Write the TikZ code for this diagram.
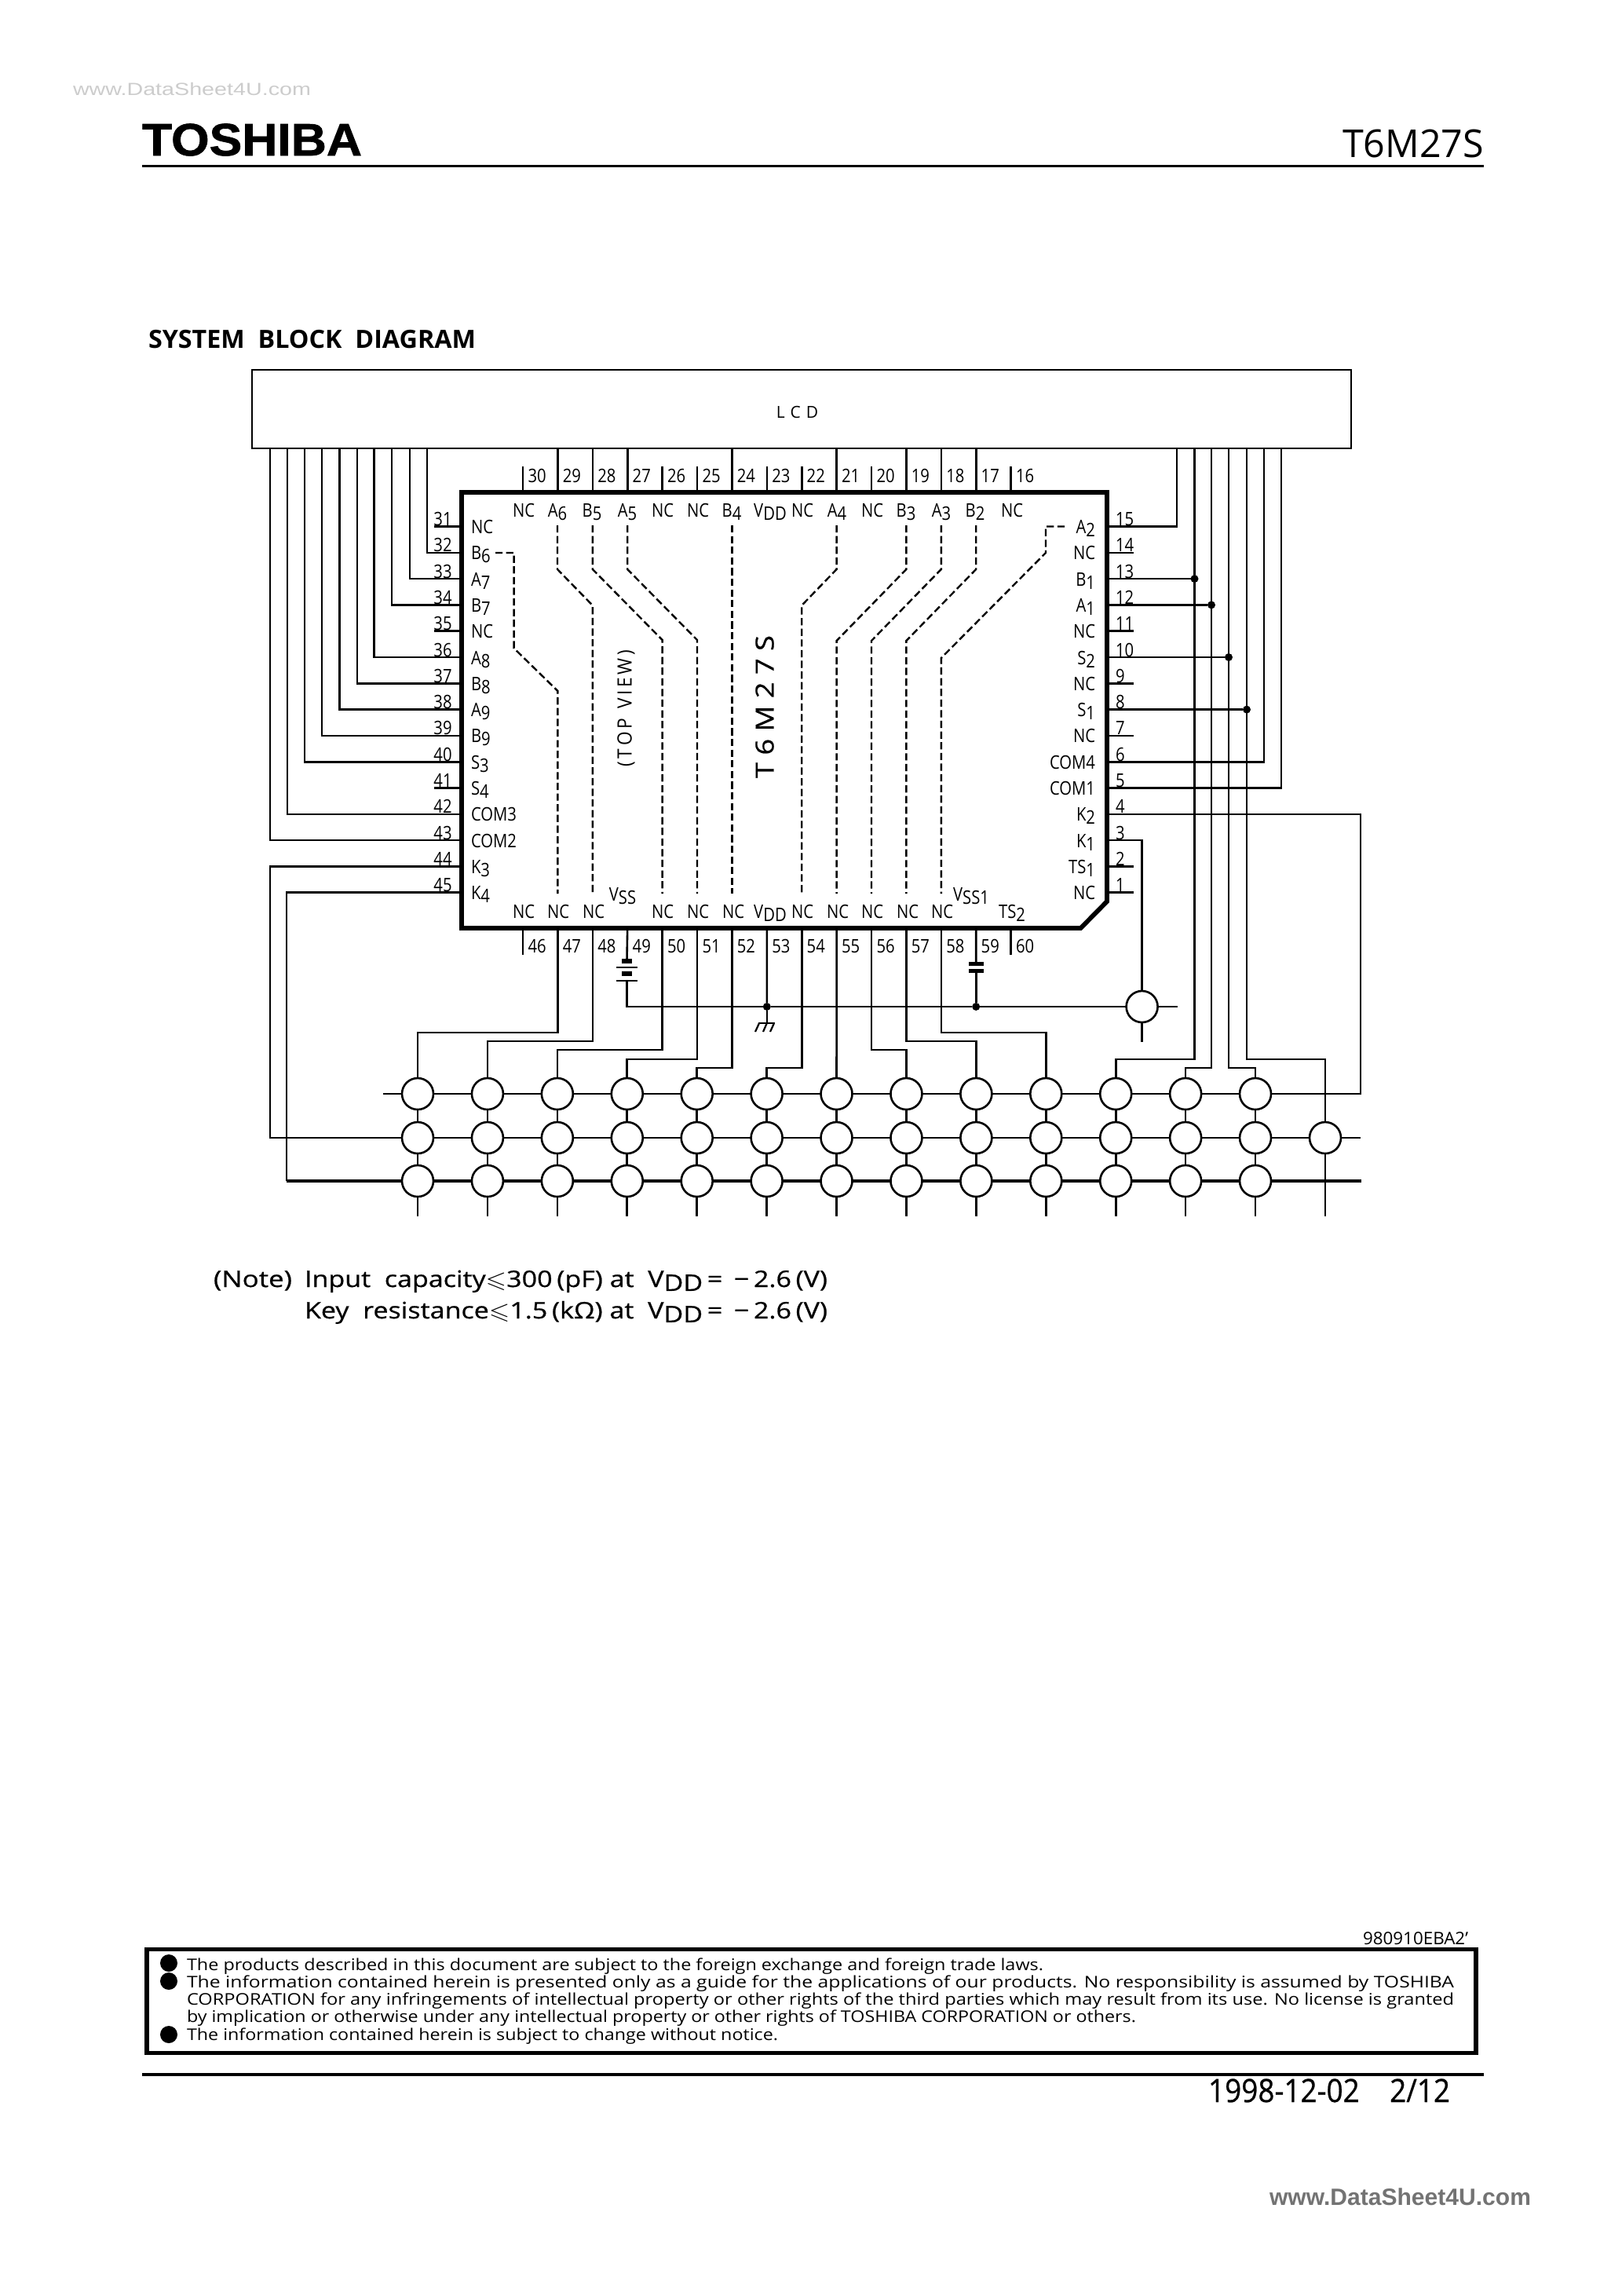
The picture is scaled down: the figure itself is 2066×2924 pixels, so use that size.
\documentclass[tikz,border=0pt]{standalone}
\usepackage{graphicx}
\usepackage{amssymb}
\usepackage{fontspec}
\setmainfont{Open Sans}
\newfontfamily\logof[FakeBold=1.2]{Liberation Sans Bold}
\newfontfamily\medf[FakeBold=0.6]{Open Sans}
\newfontfamily\wmf{Liberation Sans}
\usetikzlibrary{calc}
\newcommand\fz[1]{\fontsize{#1}{#1}\selectfont}
\newcommand\fitw[2]{\resizebox{#1pt}{\height}{#2}}
\newcommand\nar[1]{\scalebox{.85}[1]{#1}}
\newcommand\lowd[1]{\raisebox{-.17em}{#1}}
\tikzset{
  wire/.style={line width=1.3pt,line cap=butt,line join=miter},
  thickwire/.style={line width=2pt,line join=miter},
  chipline/.style={line width=2.9pt,line join=miter},
  dashline/.style={line width=1.2pt,dash pattern=on 4.6pt off 2.2pt},
  txt/.style={inner sep=0pt,outer sep=0pt,font=\fz{11.9}},
  lab/.style={txt,anchor=base},
  labl/.style={txt,anchor=base west},
  labr/.style={txt,anchor=base east},
  key/.style={circle,draw,line width=1.3pt,minimum size=20pt,inner sep=0pt,outer sep=0pt},
  jdot/.style={circle,fill=black,minimum size=5pt,inner sep=0pt,outer sep=0pt},
  bullet/.style={circle,fill=black,minimum size=11pt,inner sep=0pt,outer sep=0pt},
}
\begin{document}
\begin{tikzpicture}[x=0.5pt,y=-0.5pt]
\useasboundingbox (0,0) rectangle (2066,2924);
% page furniture
\node[labl,text=black!20] (wm1) at (93,121.5) {\wmf\fz{11.2}\fitw{151.5}{www.DataSheet4U.com}};
\node[labl] (logo) at (181,198) {\logof\fz{29}\fitw{140}{TOSHIBA}};
\node[labr] (part) at (1890,200) {\fz{24.5}\fitw{90}{T6M27S}};
\draw[line width=1.6pt] (181,211.5) coordinate (rt1) -- (1890,211.5) coordinate (rt2);
\node[labl] (title) at (189,443) {\bfseries\fz{16}\fitw{208.5}{SYSTEM\ \ BLOCK\ \ DIAGRAM}};
% LCD
\node[draw,line width=1.4pt,minimum width=700pt,minimum height=50pt,inner sep=0pt,outer sep=0pt] (lcd) at (1021,521) {};
\node[txt,font=\fz{10.5}] (lcdt) at (1015.5,525) {L\,\,C\,\,D};
% chip
\draw[chipline] (588,627) -- (1410,627) -- (1410,1148) -- (1376.5,1182) -- (588,1182) -- cycle;
% pin coordinates and numbers
\foreach \n [evaluate=\n as \px using {666+44.4*(30-\n)}] in {16,...,30} {
  \coordinate (p\n) at (\px,627);
  \node[labl] (n\n) at (\px+6.5,614.5) {\nar{\n}};
}
\foreach \n [evaluate=\n as \px using {666+44.4*(\n-46)}] in {46,...,60} {
  \coordinate (p\n) at (\px,1182);
  \node[labl] (n\n) at (\px+6.5,1213) {\nar{\n}};
}
\foreach \n [evaluate=\n as \py using {670.5+33.3*(\n-31)}] in {31,...,45} {
  \coordinate (p\n) at (588,\py);
  \node[lab] (n\n) at (564,\py-1) {\nar{\n}};
}
\foreach \n [evaluate=\n as \py using {670.5+33.3*(15-\n)}] in {1,...,15} {
  \coordinate (p\n) at (1410,\py);
  \node[labl] (n\n) at (1421,\py-1) {\nar{\n}};
}
% top row labels
\foreach \tx/\tl/\nm in {667/NC/a,710/A\lowd{6}/b,754/B\lowd{5}/c,799/A\lowd{5}/d,844/NC/e,889/NC/f,932/B\lowd{4}/g,981/V\lowd{DD}/h,1022/NC/i,1066/A\lowd{4}/j,1111/NC/k,1154/B\lowd{3}/l,1199/A\lowd{3}/m,1242/B\lowd{2}/o,1289/NC/q}
  \node[lab] (tl\nm) at (\tx,658.5) {\nar{\tl}};
% bottom row labels
\foreach \tx/\tl/\nm in {667/NC/a,711/NC/b,756/NC/c,844/NC/e,889/NC/f,934/NC/g,981/V\lowd{DD}/h,1022/NC/i,1067/NC/j,1111/NC/k,1156/NC/l,1200/NC/m,1289/TS\lowd{2}/q}
  \node[lab] (bl\nm) at (\tx,1169.5) {\nar{\tl}};
\node[lab] (blvss) at (793,1147) {\nar{V\lowd{SS}}};
\node[lab] (blvss1) at (1237,1147) {\nar{V\lowd{SS1}}};
% left labels
\foreach \n/\tl in {31/NC,32/B\lowd{6},33/A\lowd{7},34/B\lowd{7},35/NC,36/A\lowd{8},37/B\lowd{8},38/A\lowd{9},39/B\lowd{9},40/S\lowd{3},41/S\lowd{4},42/COM3,43/COM2,44/K\lowd{3},45/K\lowd{4}}
  \node[labl,yshift=-4.5pt] (ll\n) at (p\n -| 600,0) {\nar{\tl}};
% right labels
\foreach \n/\tl in {15/A\lowd{2},14/NC,13/B\lowd{1},12/A\lowd{1},11/NC,10/S\lowd{2},9/NC,8/S\lowd{1},7/NC,6/COM4,5/COM1,4/K\lowd{2},3/K\lowd{1},2/TS\lowd{1},1/NC}
  \node[labr,yshift=-4.5pt] (rl\n) at (p\n -| 1395,0) {\nar{\tl}};
% rotated labels
\node[txt,rotate=90,font=\fz{12.6}] (topview) at (797.5,902) {\fitw{74.5}{(\,T\,O\,P\ \ V\,I\,E\,W\,)}};
\node[txt,rotate=90,font=\fz{16}] (chipname) at (974,900) {\medf\fitw{91}{T\ 6\ M\ 2\ 7\ S}};
% short stubs on the top and bottom
\foreach \n in {30,26,25,23,22,20,16} \draw[wire] (p\n) -- ++(0,-33.5);
\foreach \n in {46,60} \draw[wire] (p\n) -- ++(0,34);
% chip to LCD, straight up
\foreach \n in {29,28,27,24,21,19,18,17} \draw[wire] (p\n) -- (p\n |- lcd.south);
% left side
\foreach \n in {31,35,41} \draw[wire] (p\n) -- ++(-35,0);
\foreach \n/\vx in {32/544,33/522,34/499,36/476.6,37/455,38/432.5,39/410,40/388,42/366,43/344}
  \draw[wire] (p\n) -| (\vx,0 |- lcd.south);
% right side
\foreach \n in {14,11,9,7,2,1} \draw[wire] (p\n) -- ++(34,0);
\foreach \n/\vx in {15/1499,6/1610,5/1632} \draw[wire] (p\n) -| (\vx,0 |- lcd.south);
% junctions on bus
\node[jdot] (d13) at (1521.5,0 |- p13) {};
\node[jdot] (d12) at (1543,0 |- p12) {};
\node[jdot] (d10) at (1565,0 |- p10) {};
\node[jdot] (d8) at (1588,0 |- p8) {};
\foreach \n in {13,12,10,8} \draw[wire] (p\n) -- (d\n);
% dashed internal wiring
\draw[dashline] (710,669) -- (710,725) -- (754.8,771) -- (754.8,1138);
\draw[dashline] (754.8,669) -- (754.8,725) -- (843.6,815) -- (843.6,1138);
\draw[dashline] (799.2,669) -- (799.2,725) -- (888,815) -- (888,1138);
\draw[dashline] (932.4,669) -- (932.4,1138);
\draw[dashline] (631,704) -- (654.6,704) -- (654.6,825.5) -- (710.4,880) -- (710.4,1138);
\draw[dashline] (1065.6,669) -- (1065.6,725) -- (1021.2,771) -- (1021.2,1138);
\draw[dashline] (1154.4,669) -- (1154.4,725) -- (1065.6,816) -- (1065.6,1138);
\draw[dashline] (1198.8,669) -- (1198.8,725) -- (1110,816) -- (1110,1138);
\draw[dashline] (1243.2,669) -- (1243.2,725) -- (1154.4,816) -- (1154.4,1138);
\draw[dashline] (1356,670.5) -- (1332,670.5) -- (1332,704) -- (1198.8,838) -- (1198.8,1138);
% key matrix
\foreach \c [evaluate=\c as \kx using {532+88.92*(\c-1)}] in {1,...,13} {
  \node[key] (k\c a) at (\kx,1393) {};
  \node[key] (k\c b) at (\kx,1449) {};
  \node[key] (k\c c) at (\kx,1504) {};
  \draw[wire] (k\c a) -- (k\c b);
  \draw[wire] (k\c b) -- (k\c c);
  \draw[wire] (k\c c) -- ++(0,45);
}
\node[key] (k14b) at (1688,1449) {};
\foreach \c [evaluate=\c as \dd using {int(\c+1)}] in {1,...,12} {
  \draw[wire] (k\c a) -- (k\dd a);
  \draw[wire] (k\c b) -- (k\dd b);
  \draw[thickwire] (k\c c) -- (k\dd c);
}
\draw[wire] (k13b) -- (k14b);
\draw[wire] (k14b) -- ++(45,0);
\draw[thickwire] (k13c) -- ++(134.5,0);
\draw[wire] (k1a) -- ++(-44,0);
\draw[wire] (p4) -| (1733,0 |- k13a) -- (k13a);
\draw[wire] (p44) -| (344,0 |- k1b) -- (k1b);
\coordinate (k4bend) at (365,0 |- k1c);
\draw[wire] (p45) -| (k4bend);
\draw[thickwire] (k4bend) -- (k1c);
% pins to keys
\draw[wire] (p47) |- (k1a |- 0,1315) -- (k1a);
\draw[wire] (p48) |- (k2a |- 0,1326) -- (k2a);
\draw[wire] (p50) |- (k3a |- 0,1337) -- (k3a);
\draw[wire] (p51) |- (k4a |- 0,1349) -- (k4a);
\draw[wire] (p52) |- (k5a |- 0,1360) -- (k5a);
\draw[wire] (p54) |- (k6a |- 0,1360) -- (k6a);
\draw[wire] (p55) -- (k7a);
\draw[wire] (p56) |- (k8a |- 0,1337) -- (k8a);
\draw[wire] (p57) |- (k9a |- 0,1326) -- (k9a);
\draw[wire] (p58) |- (k10a |- 0,1315) -- (k10a);
% bus lines from LCD to keys
\draw[wire] (d13 |- lcd.south) |- (k11a |- 0,1349) -- (k11a);
\draw[wire] (d12 |- lcd.south) |- (k12a |- 0,1360) -- (k12a);
\draw[wire] (d10 |- lcd.south) |- (k13a |- 0,1360) -- (k13a);
\draw[wire] (d8 |- lcd.south) |- (k14b |- 0,1349) -- (k14b);
\draw[wire] (k14b) -- ++(0,100);
% power rail
\node[key] (kk) at (1454.6,1282) {};
\node[jdot] (dv) at (976.8,1282) {};
\node[jdot] (dc) at (1243.2,1282) {};
\draw[wire] (p3) -| (kk);
\draw[wire] (kk) -- ++(0,45);
\draw[wire] (kk) -- ++(45.4,0);
\draw[wire] (dc) -- (kk);
\draw[wire] (dv) -- (dc);
\draw[wire] (p53) -- (dv);
% battery
\coordinate (bat1) at (798.5,1223);
\coordinate (bat2) at (798.5,1249);
\draw[wire] (p49) -- (bat1);
\draw[line width=2.6pt] (792,1224) -- (805,1224);
\draw[line width=1.3pt] (785,1232) -- (812,1232);
\draw[line width=2.6pt] (792,1240) -- (805,1240);
\draw[line width=1.3pt] (785,1249) -- (812,1249);
\draw[wire] (bat2) |- (dv);
% ground
\coordinate (gnd) at (976.8,1303);
\draw[wire] (dv) -- (gnd);
\draw[line width=1.1pt] (966,1303) -- (987,1303);
\draw[line width=1.1pt] (967,1303) -- (962,1314) (976.8,1303) -- (972,1314) (986,1303) -- (981,1314);
% capacitor
\coordinate (cap1) at (1243.2,1227);
\coordinate (cap2) at (1243.2,1236);
\draw[wire] (p59) -- (cap1);
\draw[line width=2.5pt] (1234,1227) -- (1252.5,1227);
\draw[line width=2.5pt] (1234,1236) -- (1252.5,1236);
\draw[wire] (cap2) -- (dc);
% note
\node[labl] (note0) at (272,1639) {\medf\fz{14.5}\fitw{50}{(Note)}};
\node[labl] (note1) at (388,1639) {\medf\fz{14.5}\fitw{333}{Input\ \ capacity$\leqslant$300\,(pF) at\ \ V\lowd{DD}\,=\ \,−\,2.6\,(V)}};
\node[labl] (note2) at (388,1679) {\medf\fz{14.5}\fitw{333}{Key\ \ resistance$\leqslant$1.5\,(kΩ) at\ \ V\lowd{DD}\,=\ \,−\,2.6\,(V)}};
% footer
\node[labl] (code) at (1736,2476) {\fz{11}\fitw{67}{980910EBA2'}};
\draw[line width=2.9pt] (187,2482.5) rectangle (1880,2614.5);
\node[bullet] (b1) at (215,2500) {};
\node[bullet] (b2) at (215,2523) {};
\node[bullet] (b3) at (215,2591) {};
\node[labl] (f1) at (238,2509) {\fz{10.25}\fitw{545.5}{The products described in this document are subject to the foreign exchange and foreign trade laws.}};
\node[labl] (f2) at (238,2531) {\fz{10.25}\fitw{807}{The information contained herein is presented only as a guide for the applications of our products. No responsibility is assumed by TOSHIBA}};
\node[labl] (f3) at (238,2553.5) {\fz{10.25}\fitw{807}{CORPORATION for any infringements of intellectual property or other rights of the third parties which may result from its use. No license is granted}};
\node[labl] (f4) at (238,2575.5) {\fz{10.25}\fitw{604.5}{by implication or otherwise under any intellectual property or other rights of TOSHIBA CORPORATION or others.}};
\node[labl] (f5) at (238,2598) {\fz{10.25}\fitw{376.5}{The information contained herein is subject to change without notice.}};
\draw[line width=2pt] (181,2642) coordinate (rb1) -- (1890,2642) coordinate (rb2);
\node[labl] (date) at (1539,2677) {\medf\fz{20.5}\fitw{154}{1998-12-02\ \ \ \ 2/12}};
\node[labl,text=black!55] (wm2) at (1617,2808) {\wmf\bfseries\fz{15}\fitw{166.5}{www.DataSheet4U.com}};
\end{tikzpicture}
\end{document}
